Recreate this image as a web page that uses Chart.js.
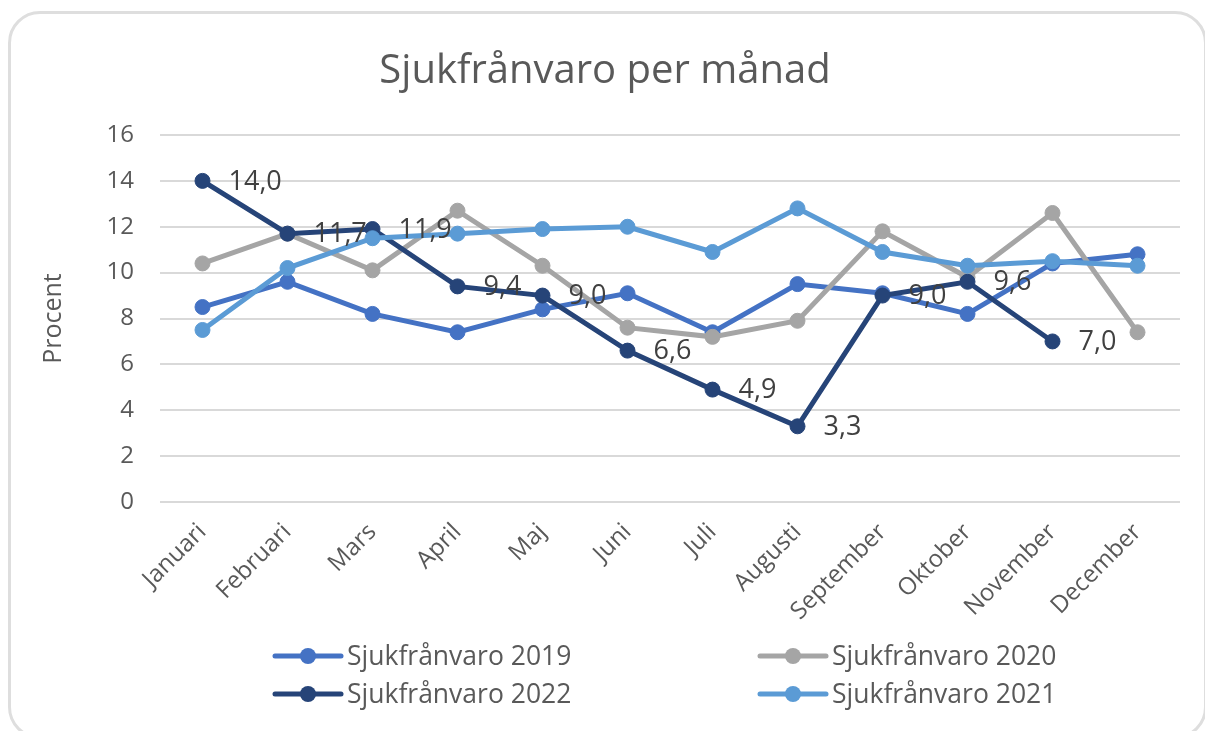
<!DOCTYPE html>
<html>
<head>
<meta charset="utf-8">
<script src="https://cdn.jsdelivr.net/npm/chart.js@4/dist/chart.umd.min.js"></script>
<style>
  html, body { margin: 0; padding: 0; background: #fff; }
  #wrap { position: relative; width: 1205px; height: 731px; overflow: hidden; }
  #card { position: absolute; left: 8px; top: 11px; width: 1199px; height: 728px;
          border: 3px solid #dedede; border-radius: 32px; box-sizing: border-box; }
  #chart { position: absolute; left: 0; top: 0; }
</style>
</head>
<body>
<div id="wrap">
  <div id="card"></div>
  <canvas id="chart" width="1205" height="731"></canvas>
</div>
<script>
// Sjukfrånvaro per månad, procent
const months = ["Januari", "Februari", "Mars", "April", "Maj", "Juni", "Juli",
  "Augusti", "September", "Oktober", "November", "December"]
const sjuk2019 = [8.5, 9.6, 8.2, 7.4, 8.4, 9.1, 7.4, 9.5, 9.1, 8.2, 10.4, 10.8]
const sjuk2020 = [10.4, 11.7, 10.1, 12.7, 10.3, 7.6, 7.2, 7.9, 11.8, 9.8, 12.6, 7.4]
const sjuk2021 = [7.5, 10.2, 11.5, 11.7, 11.9, 12.0, 10.9, 12.8, 10.9, 10.3, 10.5, 10.3]
const sjuk2022 = [14.0, 11.7, 11.9, 9.4, 9.0, 6.6, 4.9, 3.3, 9.0, 9.6, 7.0, null]
const yTicks = [0, 2, 4, 6, 8, 10, 12, 14, 16]

const textColor = "#595959"
const font = '"Open Sans", "Noto Sans", sans-serif'

function fmt(v) {
  return v.toFixed(1).replace(".", ",")
}

function series(label, data, color, order, showLabels) {
  return {
    label: label,
    data: data,
    borderColor: color,
    backgroundColor: color,
    borderWidth: 5,
    pointRadius: 7.5,
    pointBorderWidth: 1,
    pointBackgroundColor: color,
    pointBorderColor: color,
    tension: 0,
    order: order,
    showLabels: showLabels,
  }
}

// value labels to the right of each point (only for 2022)
const valueLabels = {
  id: "valueLabels",
  afterDatasetsDraw(chart) {
    const ctx = chart.ctx
    chart.data.datasets.forEach((ds, di) => {
      if (!ds.showLabels) return
      const meta = chart.getDatasetMeta(di)
      ctx.save()
      ctx.fillStyle = "#404040"
      ctx.font = "27px " + font
      ctx.textBaseline = "middle"
      ctx.textAlign = "left"
      meta.data.forEach((pt, i) => {
        const v = ds.data[i]
        if (v === null || v === undefined) return
        ctx.fillText(fmt(v), pt.x + 26, pt.y + 1)
      })
      ctx.restore()
    })
  },
}

// two-column legend like the Excel one
const gridLegend = {
  id: "gridLegend",
  afterDraw(chart) {
    const ctx = chart.ctx
    const cols = [275, 760]
    const rows = [656, 694]
    chart.data.datasets.forEach((ds, i) => {
      const x = cols[i % 2]
      const y = rows[Math.floor(i / 2)]
      ctx.save()
      ctx.strokeStyle = ds.borderColor
      ctx.lineWidth = 5
      ctx.lineCap = "round"
      ctx.beginPath()
      ctx.moveTo(x, y)
      ctx.lineTo(x + 66, y)
      ctx.stroke()
      ctx.fillStyle = ds.borderColor
      ctx.beginPath()
      ctx.arc(x + 33, y, 8, 0, Math.PI * 2)
      ctx.fill()
      ctx.fillStyle = textColor
      ctx.font = "26.5px " + font
      ctx.textBaseline = "middle"
      ctx.fillText(ds.label, x + 72, y + 1)
      ctx.restore()
    })
  },
}

new Chart(document.getElementById("chart"), {
  type: "line",
  data: {
    labels: months,
    datasets: [
      series("Sjukfrånvaro 2019", sjuk2019, "#4472C4", 3, false),
      series("Sjukfrånvaro 2020", sjuk2020, "#A5A5A5", 2, false),
      series("Sjukfrånvaro 2022", sjuk2022, "#264478", 1, true),
      series("Sjukfrånvaro 2021", sjuk2021, "#5B9BD5", 0, false),
    ],
  },
  options: {
    responsive: false,
    animation: false,
    layout: { padding: { left: 30, right: 25, top: 30, bottom: 94 } },
    plugins: {
      legend: { display: false },
      tooltip: { enabled: false },
      title: {
        display: true,
        text: "Sjukfrånvaro per månad",
        color: textColor,
        font: { family: font, size: 40, weight: "normal" },
        padding: { top: 18, bottom: 39 },
      },
    },
    scales: {
      x: {
        offset: true,
        grid: { display: false },
        border: { display: false },
        ticks: {
          color: textColor,
          font: { family: font, size: 24 },
          maxRotation: 45,
          minRotation: 45,
          padding: 8,
        },
        afterFit(s) { s.height = 135 },
      },
      y: {
        min: 0,
        max: 16,
        afterBuildTicks(s) { s.ticks = yTicks.map(v => ({ value: v })) },
        grid: { color: "#d9d9d9", lineWidth: 2, drawTicks: false },
        border: { display: false },
        ticks: {
          color: textColor,
          font: { family: font, size: 24 },
          padding: 26,
        },
        title: {
          display: true,
          text: "Procent",
          color: textColor,
          font: { family: font, size: 25 },
          padding: { top: 9, bottom: 0 },
        },
        afterFit(s) { s.width = 130 },
      },
    },
  },
  plugins: [valueLabels, gridLegend],
})
</script>
</body>
</html>
